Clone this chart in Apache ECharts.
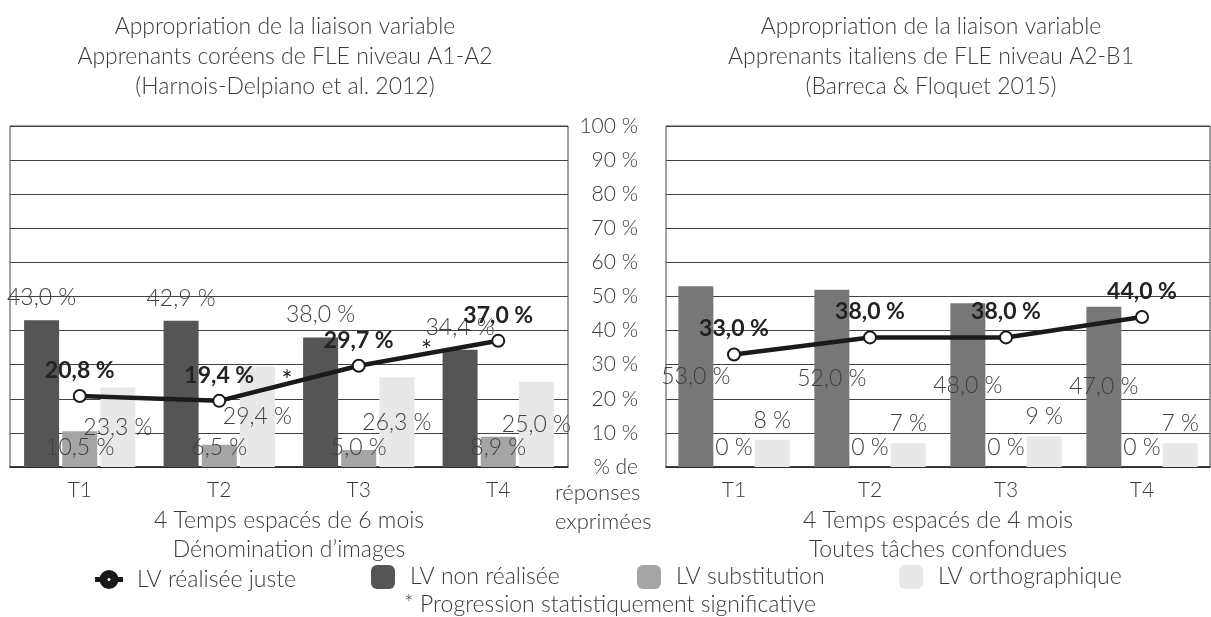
<!DOCTYPE html>
<html lang="fr">
<head>
    <meta charset="UTF-8">
    <title>Appropriation de la liaison variable</title>
    <!-- echarts -->
    <script type="text/javascript" src="https://cdn.jsdelivr.net/npm/echarts@6/dist/echarts.min.js"></script>
    <style>
        html, body { margin: 0; padding: 0; background: #fff; }
    </style>
</head>
<body>
    <div id="main" style="width: 1211px;height:617px;"></div>

    <script type="text/javascript">
        // categories et graduations
        var temps = ['T1', 'T2', 'T3', 'T4'];
        var yTicks = [0, 10, 20, 30, 40, 50, 60, 70, 80, 90, 100];

        // apprenants coréens (A1-A2)
        var coJuste = [20.8, 19.4, 29.7, 37.0];
        var coNonRealisee = [43.0, 42.9, 38.0, 34.4];
        var coSubstitution = [10.5, 6.5, 5.0, 8.9];
        var coOrtho = [23.3, 29.4, 26.3, 25.0];
        var coSignificatif = [[1, 2], [2, 3]];   // T2->T3, T3->T4

        // apprenants italiens (A2-B1)
        var itJuste = [33, 38, 38, 44];
        var itNonRealisee = [53, 52, 48, 47];
        var itSubstitution = [0, 0, 0, 0];
        var itOrtho = [8, 7, 9, 7];

        var police = 'Lato, "Open Sans", sans-serif';
        var gris = '#3a3a3a';

        function pct1(p) { return p.value.toFixed(1).replace('.', ',') + ' %'; }
        function pct0(p) { return p.value + ' %'; }

        function etiquette(pos, dist, fmt) {
            return {
                show: true, position: pos, distance: dist, formatter: fmt,
                fontFamily: police, fontWeight: 300, fontSize: 23, color: '#404040'
            };
        }

        function ligne(data, idx) {
            return {
                name: 'LV réalisée juste', type: 'line', data: data,
                xAxisIndex: idx, yAxisIndex: idx, z: 5,
                symbol: 'emptyCircle', symbolSize: 12,
                lineStyle: { color: '#1a1a1a', width: 4.5 },
                itemStyle: { color: '#1a1a1a', borderColor: '#1a1a1a', borderWidth: 4 },
                label: {
                    show: true, position: 'top', distance: 7, formatter: pct1,
                    fontFamily: police, fontWeight: 'bold', fontSize: 23, color: '#222'
                }
            };
        }

        function barre(name, data, idx, color, lab) {
            return {
                name: name, type: 'bar', data: data,
                xAxisIndex: idx, yAxisIndex: idx,
                barWidth: 35, barGap: '9%',
                itemStyle: { color: color },
                label: lab
            };
        }

        function axeX(idx, nom) {
            return {
                type: 'category', gridIndex: idx, data: temps,
                axisLine: { lineStyle: { color: '#222', width: 1.5 } },
                axisTick: { show: false },
                axisLabel: { margin: 13, fontFamily: police, fontWeight: 300, fontSize: 21, color: gris },
                name: nom, nameLocation: 'middle', nameGap: 32,
                nameTextStyle: { fontFamily: police, fontWeight: 300, fontSize: 23, lineHeight: 29, color: gris }
            };
        }

        function axeY(idx, labels) {
            return {
                type: 'value', gridIndex: idx, position: 'left',
                min: yTicks[0], max: yTicks[yTicks.length - 1], interval: yTicks[1] - yTicks[0],
                axisLine: { show: false }, axisTick: { show: false },
                splitLine: { lineStyle: { color: '#444', width: 1 } },
                axisLabel: {
                    show: labels, margin: 28, fontFamily: police, fontWeight: 300, fontSize: 21, color: gris,
                    formatter: function (v) { return v === 0 ? '% de' : v + ' %'; }
                }
            };
        }

        function legende(x, item, w, h) {
            return {
                left: x, top: 572 - h / 2, itemWidth: w, itemHeight: h, data: [item],
                textStyle: { fontFamily: police, fontWeight: 300, fontSize: 23, color: gris, padding: [0, 0, 0, 10] }
            };
        }

        var titre = { fontFamily: police, fontWeight: 300, fontSize: 23, lineHeight: 30, color: gris };

        var myChart = echarts.init(document.getElementById('main'));
        myChart.setOption({
            animation: false,
            color: ['#1a1a1a', '#555555', '#a5a5a5', '#e8e8e8'],
            title: [
                { text: 'Appropriation de la liaison variable\nApprenants coréens de FLE niveau A1-A2\n(Harnois-Delpiano et al. 2012)',
                  left: 280, top: 7, textAlign: 'center', textStyle: titre },
                { text: 'Appropriation de la liaison variable\nApprenants italiens de FLE niveau A2-B1\n(Barreca & Floquet 2015)',
                  left: 926, top: 7, textAlign: 'center', textStyle: titre },
                { text: '* Progression statistiquement significative',
                  left: 605, top: 588, textAlign: 'center',
                  textStyle: { fontFamily: police, fontWeight: 300, fontSize: 23, color: gris } }
            ],
            legend: [
                // rond noir à petit centre blanc, avec deux bouts de trait
                legende(90, {
                    name: 'LV réalisée juste',
                    icon: 'path://M0,7.5h5v3h-5z M21,7.5h5v3h-5z M4.5,9a8.5,8.5 0 1,1 17,0a8.5,8.5 0 1,1 -17,0z M10.5,9a2.5,2.5 0 1,0 5,0a2.5,2.5 0 1,0 -5,0z'
                }, 26, 18),
                legende(366, 'LV non réalisée', 24, 24),
                legende(632, 'LV substitution', 24, 24),
                legende(894, 'LV orthographique', 24, 24)
            ],
            grid: [
                { left: 10, right: 643, top: 126, bottom: 150, show: true, borderColor: '#444', borderWidth: 1 },
                { left: 666, right: 1, top: 126, bottom: 150, show: true, borderColor: '#444', borderWidth: 1 }
            ],
            xAxis: [
                axeX(0, '4 Temps espacés de 6 mois\nDénomination d\u2019images'),
                axeX(1, '4 Temps espacés de 4 mois\nToutes tâches confondues')
            ],
            yAxis: [axeY(0, false), axeY(1, true)],
            series: [
                barre('LV non réalisée', coNonRealisee, 0, '#555555', etiquette('top', 11, pct1)),
                barre('LV substitution', coSubstitution, 0, '#a5a5a5', etiquette('insideBottom', 8, pct1)),
                barre('LV orthographique', coOrtho, 0, '#e8e8e8', etiquette('inside', 0, pct1)),
                ligne(coJuste, 0),
                barre('LV non réalisée', itNonRealisee, 1, '#777777', etiquette('inside', 0, pct1)),
                barre('LV substitution', itSubstitution, 1, '#a5a5a5', etiquette('insideBottom', 8, pct0)),
                barre('LV orthographique', itOrtho, 1, '#e8e8e8', etiquette('top', 8, pct0)),
                ligne(itJuste, 1)
            ]
        });

        // titre de l'axe central + astérisques de significativité
        var graphiques = [{
            type: 'text', left: 615 - 60, top: 478,
            style: { text: 'réponses\nexprimées', fontFamily: police, fontWeight: 300, fontSize: 22,
                     lineHeight: 29, fill: gris, align: 'center', width: 120 }
        }];
        for (var i = 0; i < coSignificatif.length; i++) {
            var a = myChart.convertToPixel({ gridIndex: 0 }, [coSignificatif[i][0], coJuste[coSignificatif[i][0]]]);
            var b = myChart.convertToPixel({ gridIndex: 0 }, [coSignificatif[i][1], coJuste[coSignificatif[i][1]]]);
            graphiques.push({
                type: 'text', x: (a[0] + b[0]) / 2 - 2, y: (a[1] + b[1]) / 2 - 2,
                style: { text: '*', fontFamily: police, fontSize: 26, fill: '#222', align: 'center', verticalAlign: 'middle' }
            });
        }
        myChart.setOption({ graphic: graphiques });
    </script>
</body>
</html>
